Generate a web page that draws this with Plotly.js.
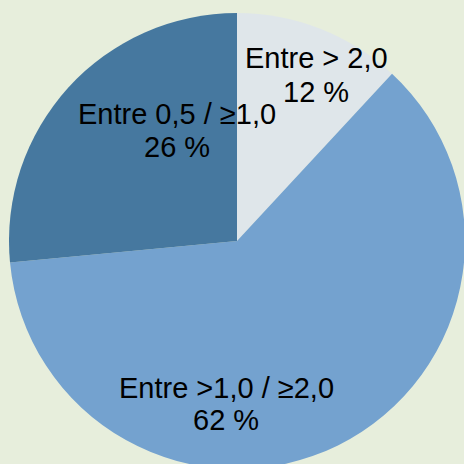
<!DOCTYPE html>
<html>
<head>
<meta charset="utf-8">
<script src="https://cdn.plot.ly/plotly-3.0.1.min.js"></script>
<style>
html,body{margin:0;padding:0;overflow:hidden;background:#e7eedc;}
#chart{width:470px;height:474px;}
</style>
</head>
<body>
<div id="chart"></div>
<script>
const categories = ["Entre > 2,0", "Entre >1,0 / ≥2,0", "Entre 0,5 / ≥1,0"];
const values = [11.9, 61.6, 26.5];
const percentLabels = ["12 %", "62 %", "26 %"];
const colors = ["#dfe6ea", "#74a2cf", "#46789f"];

const W = 470, H = 474;
// label placement (pixels from top-left) for category line and percent line
const labelPos = [
  {x: 316, y1: 58.5, y2: 91.9},
  {x: 226, y1: 387.8, y2: 420.2},
  {x: 177, y1: 114.2, y2: 146.9}
];

const annotations = [];
categories.forEach((c, i) => {
  const p = labelPos[i];
  annotations.push({text: c, x: p.x / W, y: 1 - p.y1 / H, xref: 'paper', yref: 'paper',
    xanchor: 'center', yanchor: 'middle', showarrow: false,
    font: {family: 'Liberation Sans, Arial, sans-serif', size: 29, color: '#000'}});
  annotations.push({text: percentLabels[i], x: p.x / W, y: 1 - p.y2 / H, xref: 'paper', yref: 'paper',
    xanchor: 'center', yanchor: 'middle', showarrow: false,
    font: {family: 'Liberation Sans, Arial, sans-serif', size: 29, color: '#000'}});
});

const cx = 237, cy = 241, r = 228;
const data = [{
  type: 'pie',
  labels: categories,
  values: values,
  sort: false,
  direction: 'clockwise',
  rotation: 0,
  textinfo: 'none',
  hoverinfo: 'none',
  marker: {colors: colors, line: {width: 0}},
  domain: {x: [(cx - r) / W, (cx + r) / W], y: [(H - cy - r) / H, (H - cy + r) / H]}
}];

const layout = {
  width: W, height: H,
  margin: {l: 0, r: 0, t: 0, b: 0},
  paper_bgcolor: '#e7eedc',
  plot_bgcolor: '#e7eedc',
  showlegend: false,
  annotations: annotations
};

Plotly.newPlot('chart', data, layout, {displayModeBar: false, staticPlot: true});
</script>
</body>
</html>
